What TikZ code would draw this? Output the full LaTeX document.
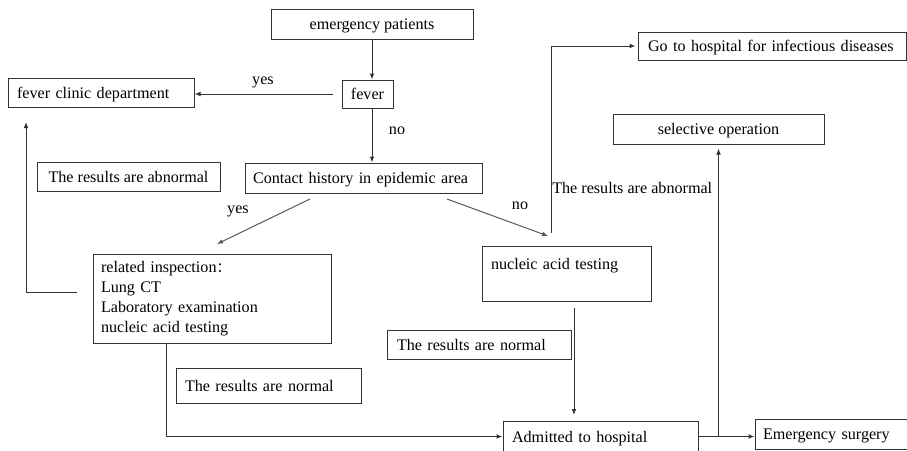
\documentclass[tikz,border=0pt]{standalone}
\usepackage{fontspec}
\setmainfont{Liberation Serif}
\newfontfamily\cjk[Scale=0.85]{Noto Sans CJK SC}
\usetikzlibrary{arrows.meta,calc}
\tikzset{
  bx/.style={draw=black!80, line width=0.75pt, inner sep=0pt, text=black,
    font=\fontsize{12.1}{15}\selectfont},
  one/.style={text depth=0pt},
  cb/.style 2 args={bx, one, minimum width=#1, minimum height=#2, align=center},
  lb/.style n args={4}{bx, minimum width=#1, minimum height=#2, inner xsep=#3, text width=#4, align=left},
  lbl/.style={inner sep=0pt, font=\fontsize{12.1}{15}\selectfont},
  arr/.style={draw=black!80, line width=0.75pt, -{Latex[length=4.5pt,width=3.6pt]}},
}
\begin{document}
\begin{tikzpicture}[x=0.75pt,y=-0.75pt]
\useasboundingbox (0,0) rectangle (907,450);
\clip (0,0) rectangle (907,450);
% boxes
\node[cb={151.5pt}{22.5pt}] (ep) at (372,24) {emergency patients};
\node[cb={38.25pt}{21pt}] (fever) at (367.5,94) {fever};
\node[lb={139.5pt}{21.75pt}{6.75pt}{126pt}, one] (fcd) at (101,92.5) {\mbox{fever clinic department}};
\node[cb={137.25pt}{21.75pt}] (abn1) at (128.5,176.5) {The results are abnormal};
\node[lb={177.75pt}{22.5pt}{6pt}{165.75pt}, one] (contact) at (363.5,178) {\mbox{Contact history in epidemic area}};
\node[lb={178.5pt}{66.75pt}{6pt}{166.5pt}] (insp) at (212,298.5) {\mbox{related inspection{\cjk ：}}\\\mbox{Lung CT}\\\mbox{Laboratory examination}\\\mbox{nucleic acid testing}};
\node[lb={138.75pt}{26.25pt}{6.75pt}{125.25pt}, one] (norm1) at (268.5,385.5) {\mbox{The results are normal}};
\node[lb={126.75pt}{41.25pt}{6.75pt}{113.25pt}] (nat) at (566.5,273.5) {\mbox{nucleic acid testing}\\~};
\node[lb={138pt}{21.75pt}{7.5pt}{123pt}, one] (norm2) at (479,344.5) {\mbox{The results are normal}};
\node[lb={146.25pt}{23.25pt}{6.75pt}{132.75pt}, one] (adm) at (600.5,436.5) {\mbox{Admitted to hospital}};
\node[lb={117.75pt}{22.5pt}{6pt}{105.75pt}, one] (es) at (833.5,434) {\mbox{Emergency surgery}};
\node[lb={201pt}{21pt}{7.5pt}{186pt}, one] (go) at (772,46) {\mbox{Go to hospital for infectious diseases}};
\node[cb={158.25pt}{22.5pt}] (sel) at (718.5,129) {selective operation};
% free labels
\node[lbl] (yes1) at (263,82) {yes};
\node[lbl] (no1) at (397,131) {no};
\node[lbl] (yes2) at (238,211) {yes};
\node[lbl] (no2) at (520,206) {no};
\node[lbl, anchor=west] (abn2) at (552,188) {The results are abnormal};
% coordinates
\coordinate (cy1) at (310,199);
\coordinate (cy2) at (217,244);
\coordinate (cn1) at (447,199);
\coordinate (cn2) at (548,236);
\coordinate (il) at (77,292);
\coordinate (fcdin) at (26,122);
\coordinate (ib) at (166,343);
\coordinate (nb) at (574,308);
\coordinate (at) at (574,415);
\coordinate (ab) at (551,233);
% connectors
\draw[arr] (ep.south) -- (ep.south |- fever.north);
\draw[arr] (ep.south |- fever.south) -- (ep.south |- contact.north);
\draw[arr, shorten <=6.75pt] (fever.west) -- (fever.west -| fcd.east);
\draw[arr, draw=black!65] (cy1) -- (cy2);
\draw[arr, draw=black!65] (cn1) -- (cn2);
\draw[arr] (il) -| (fcdin);
\draw[arr] (ib) |- (adm.west);
\draw[arr] (nb) -- (at);
\draw[arr, shorten >=1.5pt] (ab) |- (go.west);
\draw[arr] (adm.east) -- (adm.east -| es.west);
\draw[arr, shorten >=3pt] (adm.east -| sel.south) -- (sel.south);
\end{tikzpicture}
\end{document}
